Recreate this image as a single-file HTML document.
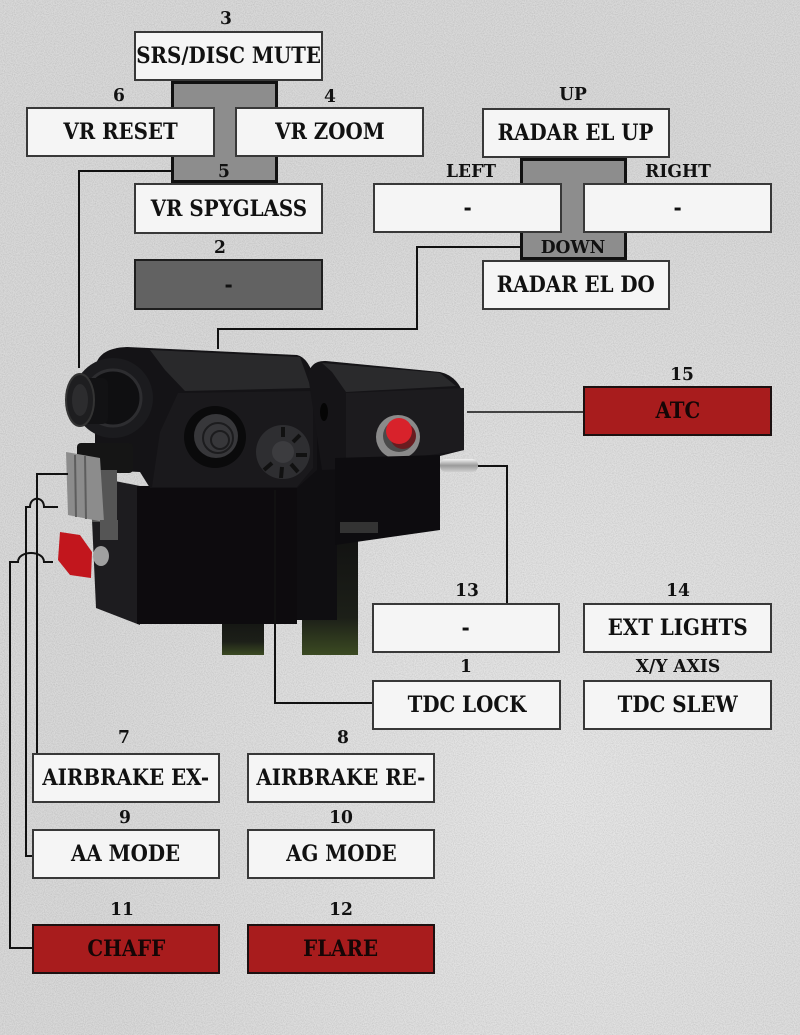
<!DOCTYPE html>
<html>
<head>
<meta charset="utf-8">
<style>
  html,body{margin:0;padding:0;}
  body{width:800px;height:1035px;position:relative;overflow:hidden;background:#dadada;
    font-family:"DejaVu Serif","Liberation Serif",serif;}
  svg.bg{position:absolute;left:0;top:0;}
  .b{position:absolute;box-sizing:border-box;border:2px solid #383838;background:#f5f5f5;
     display:flex;align-items:center;justify-content:center;font-weight:bold;font-size:22px;color:#111;}
  .b span{display:inline-block;transform:scaleX(0.9);white-space:nowrap;}
  .red{background:#a81c1d;border-color:#1c1010;color:#150606;}
  .dk{background:#626262;border-color:#1e1e1e;}
  .g{position:absolute;box-sizing:border-box;border:3px solid #111;background:#8d8d8d;}
  .l{position:absolute;font-weight:bold;font-size:18px;color:#111;white-space:nowrap;
     transform:translate(-50%,-50%) scaleX(0.95);line-height:1;}
</style>
</head>
<body>
<svg class="bg" width="800" height="1035" viewBox="0 0 800 1035">
  <defs>
    <filter id="nz" x="0" y="0" width="100%" height="100%">
      <feTurbulence type="fractalNoise" baseFrequency="0.9" numOctaves="2" seed="3"/>
      <feColorMatrix type="matrix" values="0 0 0 0 0  0 0 0 0 0  0 0 0 0 0  0 0 0 -1.6 1.05"/>
    </filter>
    <radialGradient id="lt" cx="0.7" cy="0.75" r="0.6">
      <stop offset="0" stop-color="#ececec" stop-opacity="0.7"/>
      <stop offset="1" stop-color="#ececec" stop-opacity="0"/>
    </radialGradient>
    <linearGradient id="leg" x1="0" y1="0" x2="0" y2="1">
      <stop offset="0" stop-color="#111"/>
      <stop offset="0.7" stop-color="#1c1f18"/>
      <stop offset="1" stop-color="#3b4a22"/>
    </linearGradient>
    <linearGradient id="pin" x1="0" y1="0" x2="0" y2="1">
      <stop offset="0" stop-color="#f2f2f2"/>
      <stop offset="0.5" stop-color="#9a9a9a"/>
      <stop offset="1" stop-color="#d0d0d0"/>
    </linearGradient>
  </defs>
  <rect width="800" height="1035" fill="#d9d9d9"/>
  <rect width="800" height="1035" fill="url(#lt)"/>
  <rect width="800" height="1035" filter="url(#nz)" opacity="0.12"/>

  <!-- ===== device ===== -->
  <rect x="222" y="610" width="42" height="45" fill="url(#leg)"/>
  <rect x="302" y="530" width="56" height="125" fill="url(#leg)"/>
  <rect x="287" y="395" width="50" height="225" fill="#0f0e11"/>
  <polygon points="90,476 140,486 140,625 96,608" fill="#1d1c1f"/>
  <rect x="137" y="486" width="160" height="138" fill="#0d0b0e"/>
  <path d="M95,368 Q98,348 127,347 L297,355 Q311,358 317,390 L317,470 L297,488 L150,488 L140,472 L95,470 Z" fill="#141316"/>
  <polygon points="150,350 300,357 311,388 185,391 165,370" fill="#29292b"/>
  <polygon points="178,393 313,391 313,468 297,487 152,487 160,432" fill="#1a191c"/>
  <circle cx="113" cy="398" r="40" fill="#1b1b1e"/>
  <circle cx="113" cy="398" r="28" fill="#0f0f11" stroke="#2d2d30" stroke-width="3"/>
  <rect x="80" y="378" width="28" height="46" rx="6" fill="#121214"/>
  <ellipse cx="80" cy="400" rx="14" ry="26" fill="#1e1e20" stroke="#333" stroke-width="2"/>
  <ellipse cx="80" cy="400" rx="8" ry="16" fill="#2c2c2e"/>
  <circle cx="215" cy="437" r="31" fill="#0a0a0b"/>
  <circle cx="216" cy="436" r="22" fill="#37373a"/>
  <circle cx="218" cy="438" r="15" fill="none" stroke="#1c1c1e" stroke-width="2"/>
  <circle cx="220" cy="440" r="9" fill="none" stroke="#1c1c1e" stroke-width="2"/>
  <circle cx="283" cy="452" r="27" fill="#2e2e31"/>
  <circle cx="283" cy="452" r="11" fill="#3c3c3f"/>
  <g stroke="#111" stroke-width="4">
    <line x1="283" y1="427" x2="283" y2="437"/><line x1="300" y1="435" x2="293" y2="442"/>
    <line x1="307" y1="455" x2="296" y2="455"/><line x1="298" y1="472" x2="291" y2="464"/>
    <line x1="281" y1="478" x2="282" y2="467"/><line x1="264" y1="470" x2="272" y2="463"/>
  </g>
  <rect x="77" y="443" width="56" height="30" rx="4" fill="#151515"/>
  <rect x="92" y="470" width="25" height="52" fill="#555"/>
  <polygon points="66,452 100,458 104,522 68,515" fill="#8c8c8c"/>
  <g stroke="#5e5e5e" stroke-width="2"><line x1="75" y1="455" x2="76" y2="517"/><line x1="85" y1="456" x2="86" y2="519"/></g>
  <rect x="100" y="520" width="18" height="20" fill="#555"/>
  <ellipse cx="101" cy="556" rx="8" ry="10" fill="#a0a0a0"/>
  <path d="M60,532 L80,535 L92,552 L91,578 L70,575 L58,560 Z" fill="#c2161d"/>
  <path d="M308,375 Q311,360 326,361 L440,372 Q458,376 464,396 L464,450 L440,456 L345,469 L322,470 Z" fill="#151417"/>
  <polygon points="322,363 440,373 456,386 346,392 332,372" fill="#2a2a2c"/>
  <polygon points="346,393 464,388 464,450 346,467" fill="#1c1b1e"/>
  <ellipse cx="324" cy="412" rx="4" ry="9" fill="#050505"/>
  <circle cx="398" cy="437" r="22" fill="#8a8a8a"/>
  <circle cx="399" cy="436" r="16" fill="#4a4a4a"/>
  <circle cx="403" cy="436" r="13" fill="#6a1c20"/>
  <circle cx="399" cy="431" r="13" fill="#d8222b"/>
  <polygon points="335,458 440,455 440,530 335,545" fill="#0d0c0f"/>
  <rect x="340" y="522" width="38" height="11" fill="#333"/>
  <rect x="440" y="459" width="38" height="13" rx="6" fill="url(#pin)"/>

  <!-- ===== connectors ===== -->
  <g fill="none" stroke="#111" stroke-width="2">
    <polyline points="171,171 79,171 79,368"/>
    <polyline points="520,247 417,247 417,329 218,329 218,349"/>
    <polyline points="467,412 583,412" stroke-width="1.6"/>
    <polyline points="478,466 507,466 507,603"/>
    <polyline points="275,490 275,703 372,703"/>
    <polyline points="68,474 37,474 37,753"/>
    <path d="M58,507 L44,507 C44,496 30,496 30,507 L26,507 L26,856 L32,856"/>
    <path d="M53,562 L44,562 C44,550 18,550 18,562 L10,562 L10,948 L32,948"/>
  </g>
</svg>

<div class="g" style="left:171px;top:81px;width:107px;height:102px;"></div>
<div class="g" style="left:520px;top:158px;width:107px;height:102px;"></div>

<div class="b" style="left:134px;top:31px;width:189px;height:50px;"><span>SRS/DISC MUTE</span></div>
<div class="b" style="left:26px;top:107px;width:189px;height:50px;"><span>VR RESET</span></div>
<div class="b" style="left:235px;top:107px;width:189px;height:50px;"><span>VR ZOOM</span></div>
<div class="b" style="left:134px;top:183px;width:189px;height:51px;"><span>VR SPYGLASS</span></div>
<div class="b dk" style="left:134px;top:259px;width:189px;height:51px;"><span>-</span></div>

<div class="b" style="left:482px;top:108px;width:188px;height:50px;"><span>RADAR EL UP</span></div>
<div class="b" style="left:373px;top:183px;width:189px;height:50px;"><span>-</span></div>
<div class="b" style="left:583px;top:183px;width:189px;height:50px;"><span>-</span></div>
<div class="b" style="left:482px;top:260px;width:188px;height:50px;"><span>RADAR EL DO</span></div>

<div class="b red" style="left:583px;top:386px;width:189px;height:50px;"><span>ATC</span></div>
<div class="b" style="left:372px;top:603px;width:188px;height:50px;"><span>-</span></div>
<div class="b" style="left:583px;top:603px;width:189px;height:50px;"><span>EXT LIGHTS</span></div>
<div class="b" style="left:372px;top:680px;width:189px;height:50px;"><span>TDC LOCK</span></div>
<div class="b" style="left:583px;top:680px;width:189px;height:50px;"><span>TDC SLEW</span></div>

<div class="b" style="left:32px;top:753px;width:188px;height:50px;"><span>AIRBRAKE EX-</span></div>
<div class="b" style="left:247px;top:753px;width:188px;height:50px;"><span>AIRBRAKE RE-</span></div>
<div class="b" style="left:32px;top:829px;width:188px;height:50px;"><span>AA MODE</span></div>
<div class="b" style="left:247px;top:829px;width:188px;height:50px;"><span>AG MODE</span></div>
<div class="b red" style="left:32px;top:924px;width:188px;height:50px;"><span>CHAFF</span></div>
<div class="b red" style="left:247px;top:924px;width:188px;height:50px;"><span>FLARE</span></div>

<div class="l" style="left:226px;top:19px;">3</div>
<div class="l" style="left:119px;top:96px;">6</div>
<div class="l" style="left:330px;top:97px;">4</div>
<div class="l" style="left:224px;top:172px;">5</div>
<div class="l" style="left:220px;top:248px;">2</div>
<div class="l" style="left:573px;top:95px;">UP</div>
<div class="l" style="left:471px;top:172px;">LEFT</div>
<div class="l" style="left:678px;top:172px;">RIGHT</div>
<div class="l" style="left:573px;top:248px;">DOWN</div>
<div class="l" style="left:682px;top:375px;">15</div>
<div class="l" style="left:467px;top:591px;">13</div>
<div class="l" style="left:678px;top:591px;">14</div>
<div class="l" style="left:466px;top:667px;">1</div>
<div class="l" style="left:678px;top:667px;">X/Y AXIS</div>
<div class="l" style="left:124px;top:738px;">7</div>
<div class="l" style="left:343px;top:738px;">8</div>
<div class="l" style="left:125px;top:818px;">9</div>
<div class="l" style="left:341px;top:818px;">10</div>
<div class="l" style="left:122px;top:910px;">11</div>
<div class="l" style="left:341px;top:910px;">12</div>
</body>
</html>
